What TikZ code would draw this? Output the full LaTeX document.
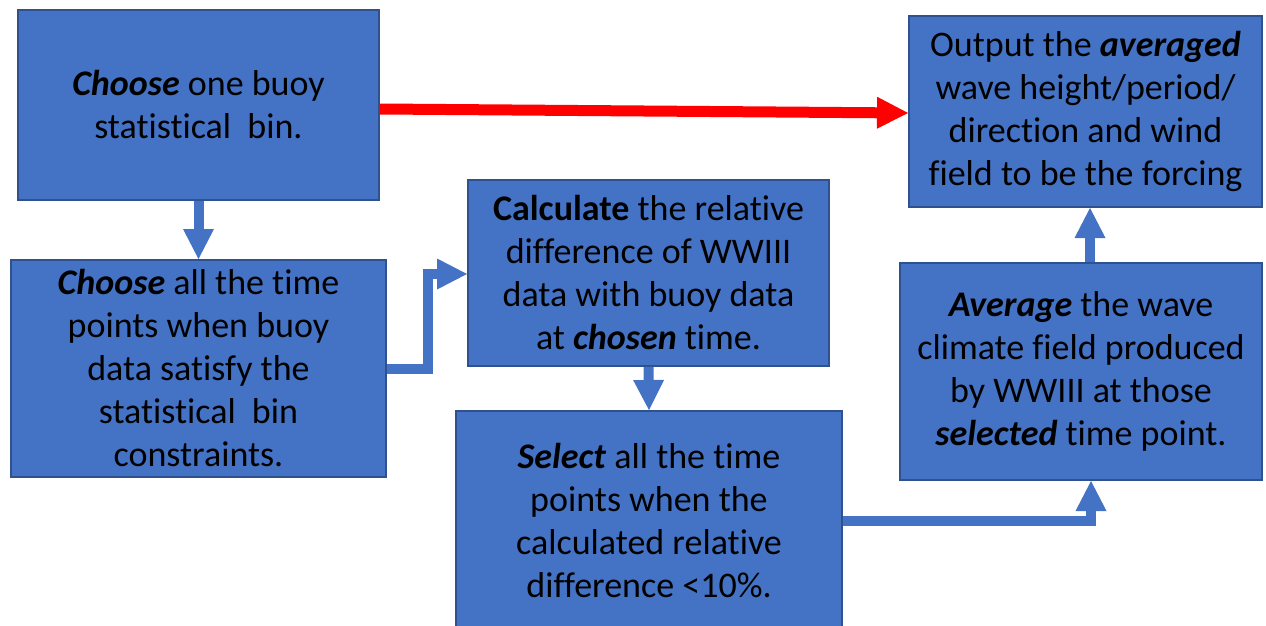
\documentclass[tikz,border=0pt]{standalone}
\usepackage{fontspec}
\setmainfont[Ligatures=NoCommon]{Carlito}
\usetikzlibrary{arrows.meta}
\definecolor{boxblue}{HTML}{4472C4}
\definecolor{boxedge}{HTML}{2F528F}
\definecolor{redarrow}{HTML}{FF0000}
\newcommand{\bi}[1]{\textbf{\textit{#1}}}
\tikzset{
  flowbox/.style={rectangle, draw=boxedge, line width=2pt, fill=boxblue,
    align=center, inner sep=0pt, text=black,
    font=\fontsize{36}{43}\selectfont},
  bluearrow/.style={draw=boxblue, line width=10pt,
    -{Triangle[width=31pt,length=30pt,line width=0pt]}},
  redarrowstyle/.style={draw=redarrow, line width=11pt,
    -{Triangle[width=32pt,length=31pt,line width=0pt]}}
}
\begin{document}
\begin{tikzpicture}[x=1pt,y=-1pt]
\useasboundingbox (0,0) rectangle (1266,626);
\clip (0,0) rectangle (1266,626);
\node[flowbox, minimum width=361pt, minimum height=190pt] (b1) at (198.5,105)
  {\bi{Choose} one buoy\\statistical\ \ bin.};
\node[flowbox, minimum width=375pt, minimum height=217pt] (b2) at (198.5,368.5)
  {\bi{Choose} all the time\\points when buoy\\data satisfy the\\statistical\ \ bin\\constraints.};
\node[flowbox, minimum width=361pt, minimum height=186pt] (b3) at (648.5,273)
  {\textbf{Calculate} the relative\\difference of WWIII\\data with buoy data\\at \bi{chosen} time.};
\node[flowbox, minimum width=386pt, minimum height=220pt] (b4) at (649,521)
  {\bi{Select} all the time\\points when the\\calculated relative\\difference <10\%.};
\node[flowbox, minimum width=362pt, minimum height=217pt] (b5) at (1081,371.5)
  {\bi{Average} the wave\\climate field produced\\by WWIII at those\\\bi{selected} time point.};
\node[flowbox, minimum width=353pt, minimum height=191pt] (b6) at (1085.5,111.5)
  {Output the \bi{averaged}\\wave height/period/\\direction and wind\\field to be the forcing};
% connectors
\draw[redarrowstyle] ([yshift=-4pt]b1.east) -- ([yshift=-1.5pt]b6.west);
\draw[bluearrow] (b1.south) -- (b2.north);
\draw[bluearrow] (b2.east) -- ++(41,0) |- ([yshift=-1pt]b3.west);
\draw[bluearrow] (b3.south) -- (b4.north);
\draw[bluearrow] (b4.east) -| ([xshift=10pt]b5.south);
\draw[bluearrow] ([xshift=9pt]b5.north) -- ([xshift=9pt]b5.north |- b6.south);
\end{tikzpicture}
\end{document}
